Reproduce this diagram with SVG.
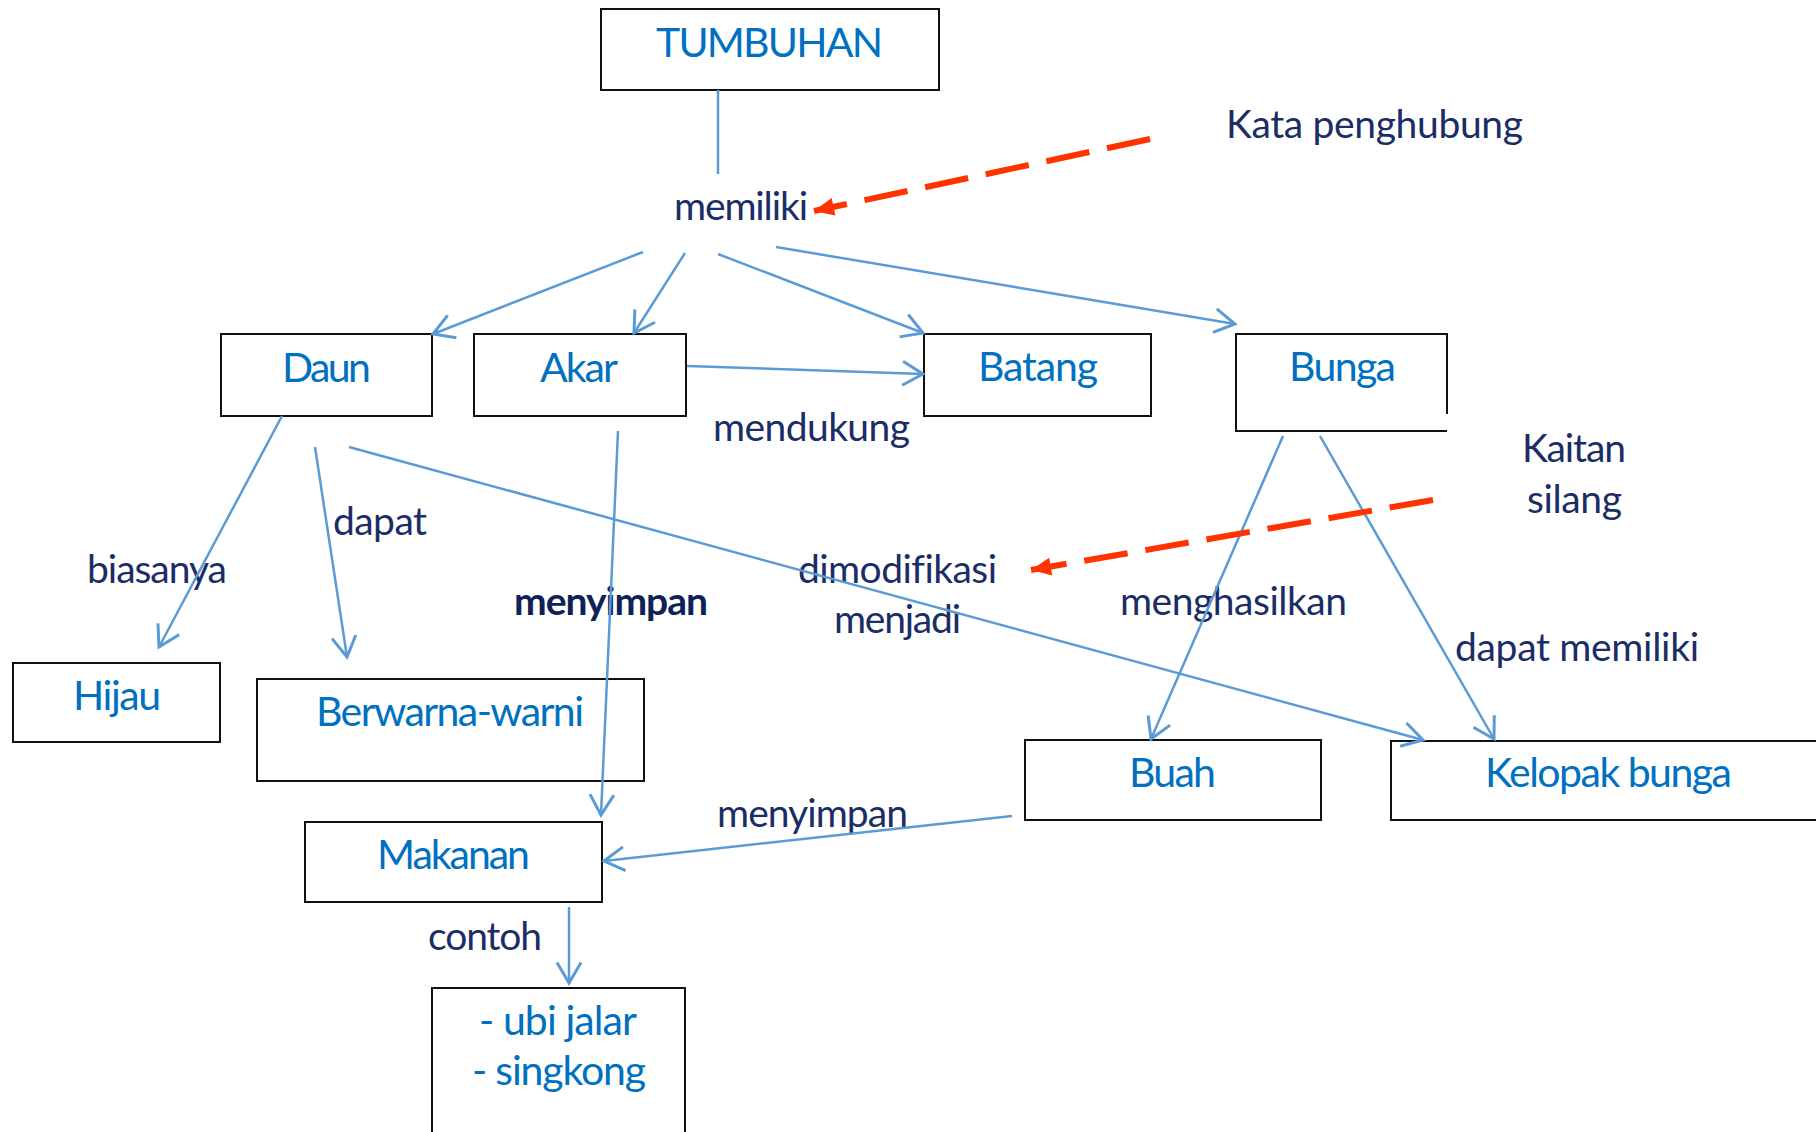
<svg xmlns="http://www.w3.org/2000/svg" width="1816" height="1132" viewBox="0 0 1816 1132">
<style>
.box{fill:#fff;stroke:#111;stroke-width:2}
.nt{font-family:Lato,"Open Sans","Liberation Sans",sans-serif;font-size:41px;fill:#0070C0}
.lb{font-family:Lato,"Open Sans","Liberation Sans",sans-serif;font-size:39px;fill:#1b2d66;font-variant-ligatures:none}
.lbb{font-family:Lato,"Open Sans","Liberation Sans",sans-serif;font-size:39px;font-weight:bold;fill:#0f2258}
.cn{fill:none;stroke:#5B9BD5;stroke-width:2.5;marker-end:url(#av)}
.cl{fill:none;stroke:#5B9BD5;stroke-width:2.5}
.rd{fill:none;stroke:#FF3300;stroke-width:6;stroke-dasharray:44 18;marker-end:url(#ra)}
</style>
<defs>
<marker id="av" markerUnits="userSpaceOnUse" markerWidth="24" markerHeight="24" viewBox="0 0 20 20" refX="17" refY="10" orient="auto" overflow="visible">
<path d="M0,0 L17,10 L0,20" fill="none" stroke="#5B9BD5" stroke-width="2.5"/>
</marker>
<marker id="ra" markerUnits="userSpaceOnUse" markerWidth="22" markerHeight="18" viewBox="0 0 22 18" refX="20" refY="9" orient="auto" overflow="visible">
<path d="M0,0 L20,9 L0,18 Z" fill="#FF3300"/>
</marker>
</defs>
<rect width="1816" height="1132" fill="#fff"/>

<g id="tumbuhan"><rect class="box" x="601" y="9" width="338" height="81"/><text class="nt" x="656" y="57" textLength="227">TUMBUHAN</text></g>
<g id="daun"><rect class="box" x="221" y="334" width="211" height="82"/><text class="nt" x="282" y="382" textLength="89">Daun</text></g>
<g id="akar"><rect class="box" x="474" y="334" width="212" height="82"/><text class="nt" x="540" y="382" textLength="78">Akar</text></g>
<g id="batang"><rect class="box" x="924" y="334" width="227" height="82"/><text class="nt" x="978" y="381" textLength="120">Batang</text></g>
<g id="bunga"><path class="box" d="M1447,414 L1447,334 L1236,334 L1236,431 L1447,431"/><text class="nt" x="1289" y="381" textLength="107">Bunga</text></g>
<g id="hijau"><rect class="box" x="13" y="663" width="207" height="79"/><text class="nt" x="73" y="710" textLength="88">Hijau</text></g>
<g id="berwarna"><rect class="box" x="257" y="679" width="387" height="102"/><text class="nt" x="316" y="726" textLength="268">Berwarna-warni</text></g>
<g id="makanan"><rect class="box" x="305" y="822" width="297" height="80"/><text class="nt" x="377" y="869" textLength="153">Makanan</text></g>
<g id="contoh-box"><rect class="box" x="432" y="988" width="253" height="160"/><text class="nt" x="479" y="1035" textLength="158">- ubi jalar</text><text class="nt" x="472" y="1085" textLength="174">- singkong</text></g>
<g id="buah"><rect class="box" x="1025" y="740" width="296" height="80"/><text class="nt" x="1129" y="787" textLength="87">Buah</text></g>
<g id="kelopak"><rect class="box" x="1391" y="741" width="440" height="79"/><text class="nt" x="1485" y="787" textLength="247">Kelopak bunga</text></g>

<g id="labels">
<text class="lb" x="674" y="220" textLength="134">memiliki</text>
<text class="lb" x="1226" y="138" textLength="297">Kata penghubung</text>
<text class="lb" x="713" y="441" textLength="197">mendukung</text>
<text class="lb" x="87" y="583" textLength="140">biasanya</text>
<text class="lb" x="333" y="535" textLength="94">dapat</text>
<text class="lbb" x="514" y="615" textLength="194">menyimpan</text>
<text class="lb" x="798" y="583" textLength="199">dimodifikasi</text>
<text class="lb" x="834" y="633" textLength="127">menjadi</text>
<text class="lb" x="1120" y="615" textLength="227">menghasilkan</text>
<text class="lb" x="1455" y="661" textLength="244">dapat memiliki</text>
<text class="lb" x="1522" y="462" textLength="104">Kaitan</text>
<text class="lb" x="1527" y="513" textLength="95">silang</text>
<text class="lb" x="717" y="827" textLength="191">menyimpan</text>
<text class="lb" x="428" y="950" textLength="114">contoh</text>
</g>

<g id="connectors">
<line class="cl" x1="718" y1="90" x2="718" y2="174"/>
<line class="cn" x1="643" y1="252" x2="433" y2="334"/>
<line class="cn" x1="685" y1="253" x2="634" y2="333"/>
<line class="cn" x1="718" y1="254" x2="923" y2="333"/>
<line class="cn" x1="776" y1="247" x2="1235" y2="324"/>
<line class="cn" x1="687" y1="366" x2="923" y2="374"/>
<line class="cn" x1="282" y1="416" x2="159" y2="647"/>
<line class="cn" x1="315" y1="447" x2="347" y2="657"/>
<line class="cn" x1="349" y1="447" x2="1423" y2="740"/>
<line class="cn" x1="618" y1="431" x2="601" y2="815"/>
<line class="cn" x1="1283" y1="436" x2="1151" y2="739"/>
<line class="cn" x1="1320" y1="436" x2="1494" y2="739"/>
<line class="cn" x1="1012" y1="816" x2="604" y2="861"/>
<line class="cn" x1="569" y1="907" x2="569" y2="983"/>
<line class="rd" x1="1150" y1="139" x2="814" y2="211"/>
<line class="rd" x1="1433" y1="500" x2="1031" y2="570"/>
</g>
</svg>
